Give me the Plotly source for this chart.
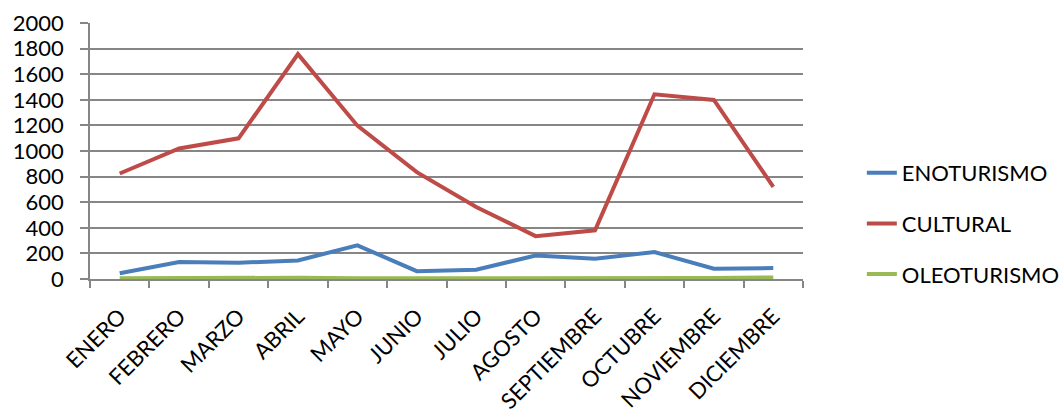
import plotly.graph_objects as go

meses = ["ENERO", "FEBRERO", "MARZO", "ABRIL", "MAYO", "JUNIO", "JULIO",
         "AGOSTO", "SEPTIEMBRE", "OCTUBRE", "NOVIEMBRE", "DICIEMBRE"]
enoturismo = [45, 132, 127, 145, 263, 61, 72, 184, 158, 210, 80, 85]
cultural = [824, 1020, 1099, 1757, 1198, 835, 563, 335, 380, 1443, 1399, 720]
oleoturismo = [5, 8, 12, 10, 5, 5, 5, 3, 3, 3, 8, 12]
y_ticks = list(range(0, 2001, 200))

series = [
    ("ENOTURISMO", enoturismo, "#4a7ebb"),
    ("CULTURAL", cultural, "#be4b48"),
    ("OLEOTURISMO", oleoturismo, "#98b954"),
]

FONT = "Lato, Carlito, Calibri, sans-serif"
GRID = "#868686"
FSIZE = 22

fig = go.Figure()
for name, vals, color in series:
    fig.add_trace(go.Scatter(
        x=meses, y=vals, name=name, mode="lines",
        line=dict(color=color, width=4),
        legendgroup=name,
    ))

fig.update_layout(
    width=1064, height=414,
    margin=dict(l=90, r=261, t=23, b=135),
    paper_bgcolor="white", plot_bgcolor="white",
    font=dict(family=FONT, size=FSIZE, color="black"),
    showlegend=True,
    legend=dict(
        xref="container", x=0.81, xanchor="left",
        yref="container", y=0.46, yanchor="middle",
        font=dict(family=FONT, size=FSIZE, color="black"),
        tracegroupgap=19,
        bgcolor="rgba(0,0,0,0)",
    ),
    xaxis=dict(
        type="category", range=[-0.5, 11.5], automargin=False,
        showgrid=False, showline=True, linecolor=GRID, linewidth=1.5,
        ticks="outside", tickson="boundaries", ticklen=7,
        tickcolor=GRID, tickwidth=1.5,
        tickangle=-45, ticklabelstandoff=14,
        tickfont=dict(family=FONT, size=FSIZE, color="black"),
    ),
    yaxis=dict(
        range=[0, 2000], tickvals=y_ticks, automargin=False,
        showgrid=True, gridcolor=GRID, gridwidth=1.5,
        showline=True, linecolor=GRID, linewidth=1.5,
        ticks="outside", ticklen=8, tickcolor=GRID, tickwidth=1.5,
        ticklabelstandoff=12,
        zeroline=False,
        tickfont=dict(family=FONT, size=FSIZE, color="black"),
    ),
)

fig.write_html("out.html")
